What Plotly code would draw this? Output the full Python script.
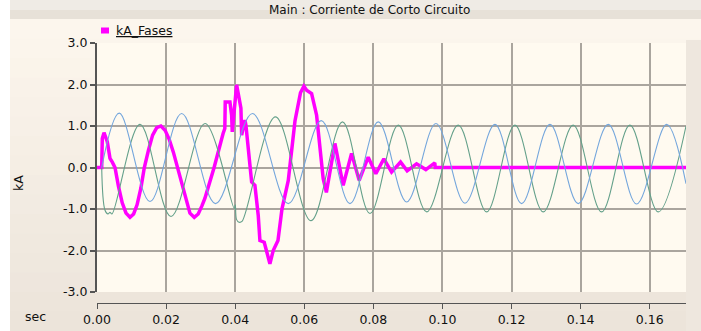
import plotly.graph_objects as go

# ---------------- data ----------------
blue_t = [0.00136, 0.00645, 0.01534, 0.02451, 0.03430, 0.04501, 0.05537, 0.06492,
          0.07323, 0.08142, 0.08964, 0.09812, 0.10652, 0.11520, 0.12292, 0.13112,
          0.13931, 0.14799, 0.15621, 0.16489, 0.17050]
blue_v = [0.0, 1.31, -0.82, 1.30, -0.87, 1.30, -0.87, 1.13,
          -0.87, 1.10, -0.83, 1.06, -0.86, 1.04, -0.87, 1.04,
          -0.87, 1.04, -0.88, 1.04, -0.39]

green_t = [0.00136, 0.00232, 0.00318, 0.00376, 0.00434, 0.01245, 0.02142, 0.03126,
           0.03974, 0.04003, 0.04038, 0.04110, 0.04197, 0.05166, 0.06194, 0.07106,
           0.07902, 0.08721, 0.09543, 0.10457, 0.11279, 0.12098, 0.12917, 0.13785,
           0.14607, 0.15426, 0.16246, 0.17050]
green_v = [0.0, -1.03, -1.12, -1.08, -1.12, 1.04, -1.18, 1.06,
           -0.99, -0.90, -1.25, -1.32, -1.30, 1.22, -1.28, 1.10,
           -1.11, 1.02, -1.07, 1.02, -1.07, 1.02, -1.07, 1.02,
           -1.07, 1.02, -1.07, 1.00]

fase_t = [0.0, 0.00136, 0.00153, 0.00203, 0.00298, 0.00376, 0.00443, 0.00521,
          0.0062, 0.0073, 0.0084, 0.00955, 0.0106, 0.0116, 0.0127, 0.0137,
          0.0149, 0.0161, 0.0173, 0.0185, 0.0197, 0.0209, 0.0221, 0.0233,
          0.0245, 0.0257, 0.0269, 0.02815, 0.0293, 0.0304, 0.03125, 0.0339,
          0.0355, 0.0365, 0.0370, 0.03712, 0.03848, 0.03897, 0.03915, 0.04042,
          0.04166, 0.04187, 0.04282, 0.04311, 0.04476, 0.04571, 0.04667, 0.04716,
          0.04841, 0.05005, 0.05101, 0.05239, 0.05354, 0.05537, 0.05731, 0.0589,
          0.05989, 0.06067, 0.06212, 0.06357, 0.06548, 0.0664, 0.06886, 0.07126,
          0.07369, 0.07589, 0.07850, 0.08072, 0.08304, 0.08527, 0.08787, 0.08978,
          0.0925, 0.09519, 0.09779, 0.0979, 0.1705]
fase_v = [0.0, 0.0, 0.70, 0.84, 0.62, 0.22, 0.13, 0.0,
          -0.45, -0.85, -1.10, -1.20, -1.12, -0.90, -0.50, 0.0,
          0.42, 0.78, 0.96, 1.00, 0.90, 0.68, 0.37, 0.0,
          -0.40, -0.80, -1.10, -1.20, -1.12, -0.92, -0.74, 0.0,
          0.55, 0.82, 0.94, 1.58, 1.58, 1.26, 0.86, 1.99,
          1.43, 0.78, 1.14, 1.02, -0.35, -0.43, -1.15, -1.76,
          -1.80, -2.32, -2.00, -1.76, -1.00, -0.31, 1.12, 1.80,
          1.96, 1.86, 1.78, 1.26, -0.27, -0.60, 0.58, -0.43,
          0.34, -0.31, 0.25, -0.15, 0.21, -0.11, 0.13, -0.08,
          0.09, -0.05, 0.11, 0.0, 0.0]

x_ticks = [0.00, 0.02, 0.04, 0.06, 0.08, 0.10, 0.12, 0.14, 0.16]
x_tick_labels = ["0.00", "0.02", "0.04", "0.06", "0.08", "0.10", "0.12", "0.14", "0.16"]
x_grid = [0.02, 0.04, 0.06, 0.08, 0.10, 0.12, 0.14, 0.16]
y_ticks = [-3, -2, -1, 0, 1, 2, 3]
y_tick_labels = ["-3.0", "-2.0", "-1.0", "0.0", "1.0", "2.0", "3.0"]
y_grid = [-3, -2, -1, 0, 1, 2]

title_text = "Main : Corriente de Corto Circuito"
series_name = "kA_Fases"
y_label = "kA"
x_label = "sec"

# ---------------- geometry ----------------
W, H = 701, 331
L, R, T, B = 97, 15, 43, 28
PW, PH = W - L - R, H - T - B
plot_bottom_px = 292
FONT = "DejaVu Sans"


def px(xp):
    return (xp - L) / PW


def py(yp):
    return (H - B - yp) / PH


fig = go.Figure()
# blue phase drawn on the labelled (overlay) x axis, green on the grid y axis;
# both axes share exactly the same ranges as the main ones.
fig.add_trace(go.Scatter(x=blue_t, y=blue_v, mode="lines", name="fase b",
                         xaxis="x2", yaxis="y",
                         line=dict(color="#74a6dc", width=1.1, shape="spline", smoothing=1.0),
                         showlegend=False, hoverinfo="skip"))
fig.add_trace(go.Scatter(x=green_t, y=green_v, mode="lines", name="fase c",
                         xaxis="x", yaxis="y2",
                         line=dict(color="#64a08a", width=1.1, shape="spline", smoothing=1.0),
                         showlegend=False, hoverinfo="skip"))
fig.add_trace(go.Scatter(x=fase_t, y=fase_v, mode="lines", name=series_name,
                         xaxis="x", yaxis="y",
                         line=dict(color="#ff00ff", width=3.5),
                         showlegend=False, hoverinfo="skip"))

shapes = []
# panel background gradient
n = 16
top, bot = 19, H
c0, c1 = (252, 246, 237), (236, 228, 218)
for i in range(n):
    y0 = top + (bot - top) * i / n
    y1 = top + (bot - top) * (i + 1) / n + 0.5
    f = i / (n - 1)
    col = "rgb(%d,%d,%d)" % tuple(round(c0[k] + (c1[k] - c0[k]) * f) for k in range(3))
    shapes.append(dict(type="rect", xref="paper", yref="paper", layer="below",
                       x0=px(10), x1=px(W), y0=py(y1), y1=py(y0),
                       fillcolor=col, line=dict(width=0)))
# right strip
shapes.append(dict(type="rect", xref="paper", yref="paper", layer="below",
                   x0=px(686), x1=px(W), y0=py(H), y1=py(40),
                   fillcolor="#eee7de", line=dict(width=0)))
# title bar
shapes.append(dict(type="rect", xref="paper", yref="paper", layer="below",
                   x0=px(10), x1=px(W), y0=py(10), y1=py(0),
                   fillcolor="#efebe5", line=dict(width=0)))
shapes.append(dict(type="rect", xref="paper", yref="paper", layer="below",
                   x0=px(10), x1=px(W), y0=py(19), y1=py(10),
                   fillcolor="#e7e1d8", line=dict(width=0)))
# left white strip
shapes.append(dict(type="rect", xref="paper", yref="paper", layer="below",
                   x0=px(0), x1=px(10), y0=py(H), y1=py(0),
                   fillcolor="#ffffff", line=dict(width=0)))
# plot area (cream)
shapes.append(dict(type="rect", xref="paper", yref="paper", layer="below",
                   x0=0, x1=1, y0=py(plot_bottom_px), y1=1,
                   fillcolor="#fffaf0", line=dict(width=0)))
# legend swatch
shapes.append(dict(type="rect", xref="paper", yref="paper", layer="above",
                   x0=px(101), x1=px(109), y0=py(33.5), y1=py(27.5),
                   fillcolor="#ff00ff", line=dict(width=0)))

annotations = [
    dict(text=title_text, x=px(369.5), y=py(10), xref="paper", yref="paper",
         showarrow=False, xanchor="center", yanchor="middle",
         font=dict(family=FONT, size=12, color="#111111")),
    dict(text="<u>" + series_name + "</u>", x=px(113.5), y=py(31), xref="paper", yref="paper",
         showarrow=False, xanchor="left", yanchor="middle",
         font=dict(family=FONT, size=12.5, color="#111111")),
    dict(text=y_label, x=px(18), y=py(183), xref="paper", yref="paper", textangle=-90,
         showarrow=False, xanchor="center", yanchor="middle",
         font=dict(family=FONT, size=12.5, color="#111111")),
    dict(text=x_label, x=px(35), y=py(316), xref="paper", yref="paper",
         showarrow=False, xanchor="center", yanchor="middle",
         font=dict(family=FONT, size=12.5, color="#111111")),
]

dom_bottom = (H - B - plot_bottom_px) / PH
XR = [0, 0.1705]
fig.update_layout(
    width=W, height=H,
    margin=dict(l=L, r=R, t=T, b=B, pad=0, autoexpand=False),
    paper_bgcolor="#eee7de",
    plot_bgcolor="rgba(0,0,0,0)",
    showlegend=False,
    shapes=shapes,
    annotations=annotations,
    xaxis=dict(range=XR, domain=[0, 1], anchor="y", tickmode="array", tickvals=x_grid,
               showticklabels=False, ticks="", showgrid=True, gridcolor="#aaa59e",
               gridwidth=1.5, zeroline=False, showline=False, automargin=False),
    xaxis2=dict(range=XR, overlaying="x", anchor="free", position=0, side="bottom",
                tickmode="array", tickvals=x_ticks, ticktext=x_tick_labels,
                showgrid=False, zeroline=False, showline=True, linecolor="#555555",
                linewidth=1.2, ticks="outside", ticklen=5, tickwidth=1.2,
                tickcolor="#555555", automargin=False,
                tickfont=dict(family=FONT, size=12.5, color="#111111")),
    yaxis=dict(range=[-3, 3], domain=[dom_bottom, 1], anchor="x", tickmode="array",
               tickvals=y_ticks, ticktext=y_tick_labels, showgrid=False, zeroline=False,
               showline=True, linecolor="#555555", linewidth=2, ticks="outside",
               ticklen=5, tickwidth=1.5, tickcolor="#555555", automargin=False,
               tickfont=dict(family=FONT, size=12.5, color="#111111")),
    yaxis2=dict(range=[-3, 3], domain=[dom_bottom, 1], overlaying="y", anchor="x",
                tickmode="array", tickvals=y_grid, showticklabels=False, ticks="",
                showgrid=True, gridcolor="#aaa59e", gridwidth=1.5, zeroline=False,
                showline=False, automargin=False),
)

fig.write_html("out.html")
